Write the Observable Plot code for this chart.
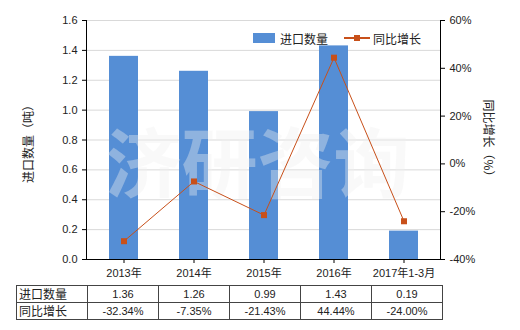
<!DOCTYPE html>
<html>
<head>
<meta charset="utf-8">
<script src="https://cdn.jsdelivr.net/npm/d3@7"></script>
<script src="https://cdn.jsdelivr.net/npm/@observablehq/plot@0.6"></script>
<style>
  body { margin: 0; background: #fff; }
  #wrap { position: relative; width: 520px; height: 330px; font-family: "Liberation Sans", "Noto Sans CJK SC", sans-serif; color: #222; }
  .ttl { position: absolute; font-size: 12px; font-family: "Noto Sans CJK SC", sans-serif; white-space: nowrap; }
  table { position: absolute; left: 16px; top: 285px; border-collapse: collapse; font-size: 11px; }
  td { border: 1px solid #444; height: 16px; padding: 0; text-align: center; line-height: 16px; }
  td.h { text-align: left; font-family: "Noto Sans CJK SC", sans-serif; font-size: 12px; padding-left: 2px; }
</style>
</head>
<body>
<div id="wrap"></div>
<script>
const categories = ["2013年", "2014年", "2015年", "2016年", "2017年1-3月"];
const importQty = [1.36, 1.26, 0.99, 1.43, 0.19];
const yoyGrowth = [-32.34, -7.35, -21.43, 44.44, -24.00];
const leftTicks = [0, 0.2, 0.4, 0.6, 0.8, 1.0, 1.2, 1.4, 1.6];
const rightTicks = [-40, -20, 0, 20, 40, 60];
const qtyLabels = ["1.36", "1.26", "0.99", "1.43", "0.19"];
const yoyLabels = ["-32.34%", "-7.35%", "-21.43%", "44.44%", "-24.00%"];
const seriesNames = ["进口数量", "同比增长"];

const barColor = "#558ED5";
const lineColor = "#C8501A";
const toLeft = p => (p + 40) / 100 * 1.6;
const fromLeft = v => Math.round(v / 1.6 * 100 - 40);

const rows = categories.map((c, i) => ({cat: c, qty: importQty[i], yoy: yoyGrowth[i], yy: toLeft(yoyGrowth[i])}));

const plot = Plot.plot({
  width: 520, height: 330,
  marginLeft: 86, marginRight: 80, marginTop: 20, marginBottom: 71,
  style: {fontFamily: '"Liberation Sans", "Noto Sans CJK SC", sans-serif', fontSize: "11px", color: "#222", background: "transparent"},
  x: {domain: categories, paddingInner: 0.59, paddingOuter: 0.295, label: null},
  y: {domain: [0, 1.6], label: null},
  marks: [
    Plot.gridY(leftTicks, {stroke: "#d9d9d9", strokeOpacity: 1}),
    Plot.barY(rows, {x: "cat", y: "qty", fill: barColor}),
    Plot.text(["济研咨询"], {text: d => d, frameAnchor: "middle", dx: -6, dy: 28, fontSize: 76, fontWeight: "bold", fill: "#eeeeee", fillOpacity: 0.38, fontFamily: "Noto Sans CJK SC", letterSpacing: 12}),
    Plot.line(rows, {x: "cat", y: "yy", stroke: lineColor, strokeWidth: 1}),
    Plot.dot(rows, {x: "cat", y: "yy", symbol: "square", r: 3.4, fill: lineColor, stroke: "none"}),
    Plot.axisY(leftTicks, {anchor: "left", tickFormat: d3.format(".1f"), tickSize: 4, label: null, stroke: "#000"}),
    Plot.axisY(rightTicks.map(toLeft), {anchor: "right", tickFormat: v => fromLeft(v) + "%", tickSize: 4, label: null, stroke: "#000"}),
    Plot.axisX({tickSize: 4, label: null, tickPadding: 6, stroke: "#000"}),
    Plot.ruleY([0], {stroke: "#000"}),
    Plot.frame({anchor: "left", stroke: "#000"}),
    Plot.frame({anchor: "right", stroke: "#000"})
  ]
});

const wrap = document.getElementById("wrap");
wrap.appendChild(plot);

// axis titles
const lt = document.createElement("div");
lt.className = "ttl"; lt.textContent = "进口数量（吨）";
lt.style.left = "27px"; lt.style.top = "141px";
lt.style.transform = "translate(-50%,-50%) rotate(-90deg)";
wrap.appendChild(lt);
const rt = document.createElement("div");
rt.className = "ttl"; rt.textContent = "同比增长（%）";
rt.style.left = "489px"; rt.style.top = "141px";
rt.style.transform = "translate(-50%,-50%) rotate(90deg)";
wrap.appendChild(rt);

// legend
const lg = document.createElement("div");
lg.style.cssText = "position:absolute;left:253px;top:30px;height:16px;display:flex;align-items:center;font-family:'Noto Sans CJK SC',sans-serif;font-size:12px;";
lg.innerHTML = `<span style="display:inline-block;width:22px;height:10px;background:${barColor};margin-right:5px"></span><span>${seriesNames[0]}</span>
<span style="position:relative;display:inline-block;width:26px;height:2px;background:${lineColor};margin-left:16px;margin-right:3px"><span style="position:absolute;left:10px;top:-2px;width:6px;height:6px;background:${lineColor}"></span></span><span>${seriesNames[1]}</span>`;
wrap.appendChild(lg);

// data table
const tbl = document.createElement("table");
const mk = (name, vals) => `<tr><td class="h" style="width:68px">${name}</td>${vals.map(v => `<td style="width:70px">${v}</td>`).join("")}</tr>`;
tbl.innerHTML = mk(seriesNames[0], qtyLabels) + mk(seriesNames[1], yoyLabels);
wrap.appendChild(tbl);
</script>
</body>
</html>
